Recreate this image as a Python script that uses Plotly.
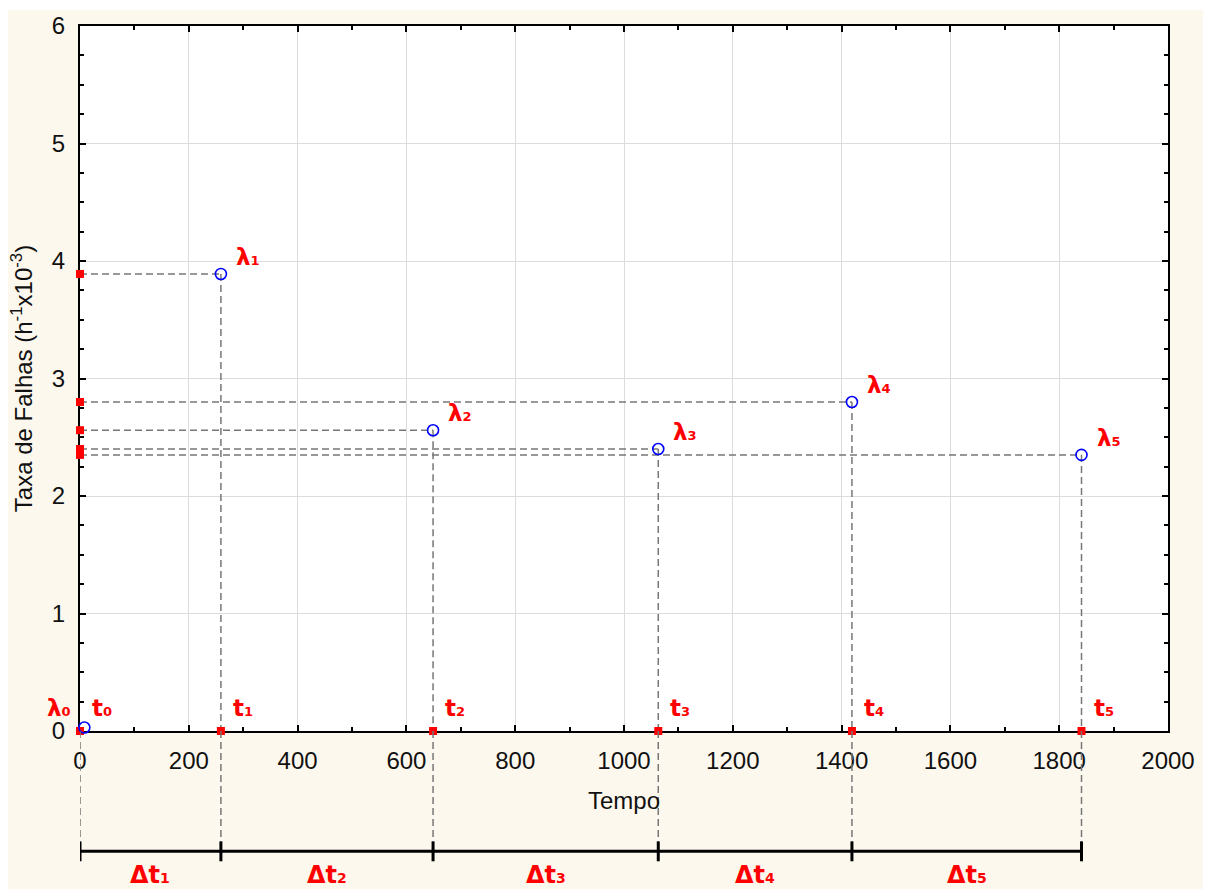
import plotly.graph_objects as go

# Interval boundaries t0..t5 (hours) and the failure-rate estimates λ0..λ5
t_nodes = [0, 259, 649, 1063, 1419, 1841]
est_time = [8, 259, 649, 1063, 1419, 1841]
est_rate = [0.03, 3.89, 2.56, 2.40, 2.80, 2.35]

x_ticks = [0, 200, 400, 600, 800, 1000, 1200, 1400, 1600, 1800, 2000]
y_ticks = [0, 1, 2, 3, 4, 5, 6]

RED = "#ff0000"
BLUE = "#0000ff"
GREY = "#777777"
TICK_FONT = dict(family="Liberation Sans, Arial, sans-serif", size=24, color="#111111")
TITLE_FONT = dict(family="Liberation Sans, Arial, sans-serif", size=24, color="#111111")
LABEL_FONT = dict(family="DejaVu Sans, Verdana, sans-serif", size=23, color=RED, weight=700)
DELTA_FONT = dict(family="DejaVu Sans, Verdana, sans-serif", size=24, color=RED, weight=700)
DASH = "7px,4px"

# vertical placement of the interval ruler below the time axis (paper units)
DASH_BOTTOM = -0.157
BAR_Y = -0.1707
BAR_TICK_TOP, BAR_TICK_BOTTOM = -0.1566, -0.1848
DELTA_LABEL_Y = -0.2045


def sub(base, idx, size=13):
    return f"{base}<span style='font-size:{size}px'>{idx}</span>"


fig = go.Figure()

# horizontal guides: from the rate axis to each estimate
hx, hy = [], []
for t, r in zip(est_time[1:], est_rate[1:]):
    hx += [0, t, None]
    hy += [r, r, None]
fig.add_trace(go.Scatter(x=hx, y=hy, mode="lines",
                         line=dict(color=GREY, width=1.5, dash=DASH),
                         hoverinfo="skip", showlegend=False))

# vertical guides inside the plot: from each estimate down to the time axis
vx, vy = [], []
for t, r in zip(t_nodes[1:], est_rate[1:]):
    vx += [t, t, None]
    vy += [r, 0, None]
fig.add_trace(go.Scatter(x=vx, y=vy, mode="lines",
                         line=dict(color=GREY, width=1.5, dash=DASH),
                         hoverinfo="skip", showlegend=False))

# red markers on both axes
fig.add_trace(go.Scatter(x=t_nodes, y=[0] * len(t_nodes), mode="markers",
                         cliponaxis=False,
                         marker=dict(symbol="square", size=8, color=RED),
                         showlegend=False))
fig.add_trace(go.Scatter(x=[0] * (len(est_rate) - 1), y=est_rate[1:], mode="markers",
                         cliponaxis=False,
                         marker=dict(symbol="square", size=8, color=RED),
                         showlegend=False))

# estimated failure rates
fig.add_trace(go.Scatter(x=est_time, y=est_rate, mode="markers", cliponaxis=False,
                         marker=dict(symbol="circle-open", size=11, color=BLUE,
                                     line=dict(color=BLUE, width=1.6)),
                         showlegend=False))

annotations = []
for i in range(1, len(est_time)):
    annotations.append(dict(x=est_time[i], y=est_rate[i], xref="x", yref="y",
                            text=sub("λ", i), showarrow=False, font=LABEL_FONT,
                            xanchor="left", yanchor="bottom", xshift=13, yshift=2))
for i, t in enumerate(t_nodes):
    annotations.append(dict(x=t, y=0, xref="x", yref="y",
                            text=sub("t", i), showarrow=False, font=LABEL_FONT,
                            xanchor="left", yanchor="bottom", xshift=10, yshift=8))
annotations.append(dict(x=t_nodes[0], y=0, xref="x", yref="y",
                        text=sub("λ", 0), showarrow=False, font=LABEL_FONT,
                        xanchor="right", yanchor="bottom", xshift=-7, yshift=8))
for i in range(1, len(t_nodes)):
    annotations.append(dict(x=(t_nodes[i - 1] + t_nodes[i]) / 2, y=DELTA_LABEL_Y,
                            xref="x", yref="paper",
                            text=sub("Δt", i, 14), showarrow=False, font=DELTA_FONT,
                            xanchor="center", yanchor="middle"))

shapes = [
    # cream page panel
    dict(type="rect", xref="paper", yref="paper", x0=-0.0662, x1=1.0322,
         y0=-0.2243, y1=1.0226, fillcolor="#fdf8ee", line=dict(width=0), layer="below"),
    # white plotting area
    dict(type="rect", xref="x domain", yref="y domain", x0=0, x1=1, y0=0, y1=1,
         fillcolor="white", line=dict(width=0), layer="below"),
]

# below the time axis: guide continuations and the Δt ruler
for t in t_nodes:
    shapes.append(dict(type="line", xref="x", yref="paper", x0=t, x1=t,
                       y0=0, y1=DASH_BOTTOM,
                       line=dict(color=GREY, width=1.5, dash=DASH)))
shapes.append(dict(type="line", xref="x", yref="paper",
                   x0=t_nodes[0], x1=t_nodes[-1], y0=BAR_Y, y1=BAR_Y,
                   line=dict(color="black", width=3)))
for t in t_nodes:
    shapes.append(dict(type="line", xref="x", yref="paper", x0=t, x1=t,
                       y0=BAR_TICK_TOP, y1=BAR_TICK_BOTTOM,
                       line=dict(color="black", width=3)))

axis_common = dict(
    showline=True, linecolor="black", linewidth=2, mirror="ticks",
    ticks="inside", ticklen=6, tickwidth=1.5, tickcolor="black",
    showgrid=True, gridcolor="#dcdcdc", gridwidth=1,
    zeroline=False, tickfont=TICK_FONT, layer="below traces",
)

fig.update_layout(
    width=1209, height=890,
    margin=dict(l=80, r=41, t=22, b=159),
    paper_bgcolor="white", plot_bgcolor="rgba(0,0,0,0)",
    font=dict(family="Liberation Sans, Arial, sans-serif"),
    xaxis=dict(range=[0, 2000], tickvals=x_ticks, ticklabelstandoff=7,
               minor=dict(dtick=100, ticks="inside", ticklen=4, tickcolor="black",
                          showgrid=False),
               title=dict(text="Tempo", font=TITLE_FONT, standoff=19),
               **axis_common),
    yaxis=dict(range=[0, 6], tickvals=y_ticks, ticklabelstandoff=8,
               minor=dict(dtick=0.25, ticks="inside", ticklen=4, tickcolor="black",
                          showgrid=False),
               title=dict(text="Taxa de Falhas (h<sup>-1</sup>x10<sup>-3</sup>)",
                          font=TITLE_FONT, standoff=12),
               **axis_common),
    annotations=annotations,
    shapes=shapes,
)

fig.write_html("out.html")
